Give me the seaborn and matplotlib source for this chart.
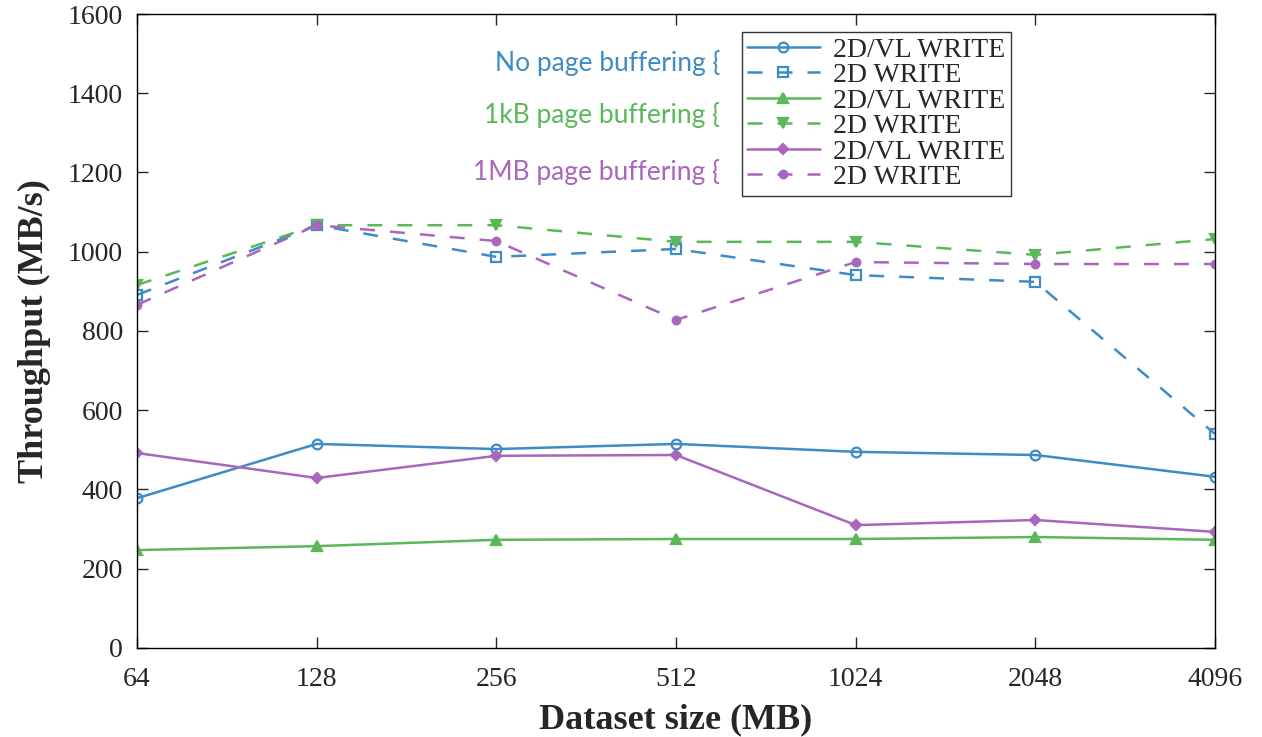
import numpy as np
import pandas as pd
import matplotlib
matplotlib.use("Agg")
import matplotlib.pyplot as plt
import seaborn as sns

# data
sizes = ["64", "128", "256", "512", "1024", "2048", "4096"]
nobuf_vl = [378, 515, 502, 515, 495, 487, 432]
nobuf_2d = [891, 1067, 987, 1007, 941, 924, 540]
kb_vl = [247, 257, 273, 275, 275, 280, 273]
kb_2d = [916, 1067, 1067, 1025, 1025, 992, 1032]
mb_vl = [492, 429, 485, 487, 310, 323, 293]
mb_2d = [866, 1067, 1027, 828, 974, 969, 969]

BLUE = "#3d8cc6"
GREEN = "#5bb859"
PURPLE = "#a866bd"

sns.set_style("ticks")
plt.rcParams["font.family"] = ["Liberation Serif", "DejaVu Serif"]

fig = plt.figure(figsize=(12.62, 7.37), dpi=100)
ax = fig.add_axes([0.1086, 0.1208, 0.8542, 0.8602])

series = [
    ("2D/VL WRITE", nobuf_vl, BLUE, "-", "o", "none", 7),
    ("2D WRITE", nobuf_2d, BLUE, "--", "s", "none", 7),
    ("2D/VL WRITE", kb_vl, GREEN, "-", "^", GREEN, 7),
    ("2D WRITE", kb_2d, GREEN, "--", "v", GREEN, 7),
    ("2D/VL WRITE", mb_vl, PURPLE, "-", "D", PURPLE, 5),
    ("2D WRITE", mb_2d, PURPLE, "--", "o", PURPLE, 5.5),
]

for label, vals, color, ls, mk, mfc, ms in series:
    df = pd.DataFrame({"size": sizes, "tp": vals})
    sns.lineplot(data=df, x="size", y="tp", sort=False, ax=ax, color=color,
                 linestyle=ls, marker=mk, markerfacecolor=mfc,
                 markeredgecolor=color, markeredgewidth=1.6, markersize=ms,
                 linewidth=1.8, label=label, dashes=False)

for line in ax.get_lines():
    if line.get_linestyle() == "--":
        line.set_dashes((6, 6))

ax.set_xlim(0, 6)
ax.set_ylim(0, 1600)
ax.set_yticks(np.arange(0, 1601, 200))
ax.set_xlabel("Dataset size (MB)", fontsize=26, fontweight="bold", labelpad=8)
ax.set_ylabel("Throughput (MB/s)", fontsize=26, fontweight="bold", labelpad=12)
ax.tick_params(direction="in", length=8, width=1, labelsize=20,
               top=True, right=True)
ax.tick_params(axis="x", pad=14)
ax.tick_params(axis="y", pad=10)
for sp in ax.spines.values():
    sp.set_visible(True)
    sp.set_color("black")
    sp.set_linewidth(1)

leg = ax.legend(loc="upper left", bbox_to_anchor=(0.561, 0.972),
                fontsize=20, frameon=True, fancybox=False, handlelength=2.6,
                handletextpad=0.5, labelspacing=0.0, borderpad=0.2,
                borderaxespad=0)
leg.get_frame().set_edgecolor("black")
leg.get_frame().set_linewidth(1)

notes = [("No page buffering {", BLUE, 63),
         ("1kB page buffering {", GREEN, 115),
         ("1MB page buffering {", PURPLE, 172)]
for txt, color, ypx in notes:
    fig.text(720 / 1262, 1 - ypx / 737, txt, color=color, fontsize=19,
             ha="right", va="center", family=["Lato", "DejaVu Sans"])

fig.savefig("out.png", dpi=100)
